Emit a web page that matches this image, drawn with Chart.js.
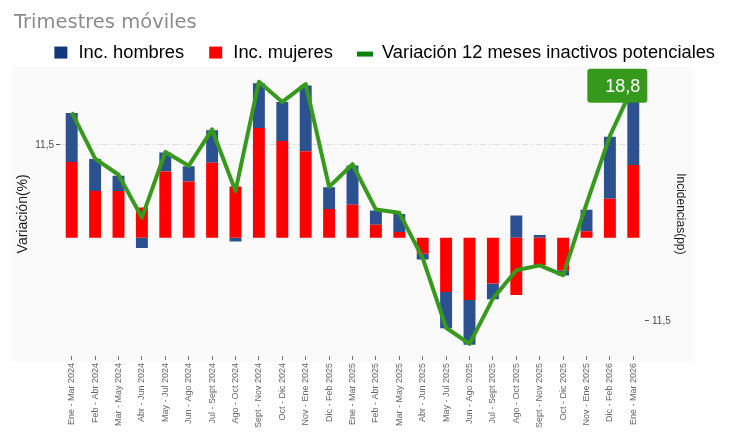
<!DOCTYPE html>
<html>
<head>
<meta charset="utf-8">
<script src="https://cdn.jsdelivr.net/npm/chart.js@4.4.1/dist/chart.umd.min.js"></script>
<style>
html,body{margin:0;padding:0;background:#ffffff;}
#wrap{width:731px;height:432px;position:relative;}
</style>
</head>
<body>
<div id="wrap"><canvas id="c" width="731" height="432"></canvas></div>
<script>
// ---- data ----
const categories = [
  'Ene - Mar 2024','Feb - Abr 2024','Mar - May 2024','Abr - Jun 2024','May - Jul 2024',
  'Jun - Ago 2024','Jul - Sept 2024','Ago - Oct 2024','Sept - Nov 2024','Oct - Dic 2024',
  'Nov - Ene 2024','Dic - Feb 2025','Ene - Mar 2025','Feb - Abr 2025','Mar - May 2025',
  'Abr - Jun 2025','May - Jul 2025','Jun - Ago 2025','Jul - Sept 2025','Ago - Oct 2025',
  'Sept - Nov 2025','Oct - Dic 2025','Nov - Ene 2025','Dic - Feb 2026','Ene - Mar 2026'
];
const incHombres = [6.8, 4.4, 2.1, -1.4, 2.6, 2.1, 4.5, -0.5, 6.2, 5.4, 9.1, 3.0, 5.4, 2.0, 2.5,
                    -0.8, -5.0, -6.2, -2.2, 3.1, 0.4, -0.7, 3.0, 8.6, 8.9];
const incMujeres = [10.5, 6.5, 6.5, 4.2, 9.2, 7.8, 10.4, 7.1, 15.2, 13.4, 12.0, 4.0, 4.6, 1.8, 0.8,
                    -2.2, -7.5, -8.6, -6.3, -7.9, -3.8, -4.5, 0.9, 5.4, 10.1];
const variacion = [15.5, 9.8, 7.8, 2.5, 10.6, 8.9, 13.4, 5.8, 19.3, 16.8, 19.0, 6.3, 9.1, 3.5, 3.1,
                   -2.5, -11.1, -13.1, -7.5, -4.0, -3.4, -4.6, 4.2, 12.6, 18.8];
const leftTicks = [11.5];
const leftTickLabels = ['11,5'];
const rightTicks = [-11.5];
const rightTickLabels = ['11,5'];
const seriesNames = ['Inc. hombres', 'Inc. mujeres', 'Variación 12 meses inactivos potenciales'];
const titleText = 'Trimestres móviles';

const FONT = "'Liberation Sans', Arial, sans-serif";
const TITLE_FONT = "'DejaVu Sans', sans-serif";
Chart.defaults.font.family = FONT;

const fmt = v => v.toLocaleString('es-ES', {minimumFractionDigits: 1, maximumFractionDigits: 1});

function icon(kind, color) {
  const c = document.createElement('canvas');
  c.width = 31; c.height = 18;
  const g = c.getContext('2d');
  g.fillStyle = color;
  if (kind === 'box') g.fillRect(16, 3, 13, 12);
  else g.fillRect(15, 8, 16, 5);
  return c;
}
const icons = [icon('box', '#12377a'), icon('box', '#ff0000'), icon('line', '#0b800b')];

const bgPlugin = {
  id: 'bg',
  beforeDraw(chart) {
    const a = chart.chartArea, ctx = chart.ctx;
    ctx.save();
    ctx.fillStyle = '#fafafa';
    ctx.fillRect(a.left - 48, a.top - 5, (a.right + 48) - (a.left - 48), (a.bottom + 6) - (a.top - 5));
    ctx.restore();
  }
};

const lastLabelPlugin = {
  id: 'lastLabel',
  afterDatasetsDraw(chart) {
    const meta = chart.getDatasetMeta(0);
    const pt = meta.data[meta.data.length - 1];
    const val = variacion[variacion.length - 1];
    const ctx = chart.ctx;
    const x0 = pt.x - 46, y0 = pt.y - 17, w = 60, h = 34, r = 3;
    ctx.save();
    ctx.fillStyle = '#359a1c';
    ctx.beginPath();
    ctx.roundRect(x0, y0, w, h, r);
    ctx.fill();
    ctx.fillStyle = '#ffffff';
    ctx.font = '18px ' + FONT;
    ctx.textAlign = 'right';
    ctx.textBaseline = 'middle';
    ctx.fillText(fmt(val), pt.x + 7, pt.y + 1);
    ctx.restore();
  }
};

new Chart(document.getElementById('c'), {
  data: {
    labels: categories,
    datasets: [
      {
        type: 'line', label: seriesNames[2], data: variacion, yAxisID: 'yL',
        borderColor: '#389a1c', backgroundColor: '#389a1c', borderWidth: 4,
        pointRadius: 0, tension: 0, order: 0, borderJoinStyle: 'round'
      },
      {
        type: 'bar', label: seriesNames[1], data: incMujeres, yAxisID: 'yR',
        backgroundColor: '#ff0000', stack: 's', order: 1,
        barPercentage: 0.51, categoryPercentage: 1
      },
      {
        type: 'bar', label: seriesNames[0], data: incHombres, yAxisID: 'yR',
        backgroundColor: '#2b5191', stack: 's', order: 1,
        barPercentage: 0.51, categoryPercentage: 1
      }
    ]
  },
  options: {
    responsive: false,
    animation: false,
    devicePixelRatio: 1,
    layout: { padding: { left: 14, right: 7, top: 0, bottom: 0 } },
    plugins: {
      tooltip: { enabled: false },
      title: {
        display: true, text: titleText, align: 'start', color: '#8c8c8c',
        font: { size: 19.5, weight: 'normal', family: TITLE_FONT }, padding: { top: 11, bottom: 0 }
      },
      legend: {
        position: 'top', align: 'end',
        labels: {
          usePointStyle: true, pointStyleWidth: 31, boxHeight: 18, padding: 9,
          color: '#1a1a1a', font: { size: 18.3 },
          generateLabels: () => [
            { text: seriesNames[0], pointStyle: icons[0], fillStyle: '#12377a', strokeStyle: 'rgba(0,0,0,0)', lineWidth: 0, hidden: false, datasetIndex: 2 },
            { text: seriesNames[1], pointStyle: icons[1], fillStyle: '#ff0000', strokeStyle: 'rgba(0,0,0,0)', lineWidth: 0, hidden: false, datasetIndex: 1 },
            { text: seriesNames[2], pointStyle: icons[2], fillStyle: '#0b800b', strokeStyle: 'rgba(0,0,0,0)', lineWidth: 0, hidden: false, datasetIndex: 0 }
          ]
        }
      }
    },
    scales: {
      x: {
        stacked: true, offset: true,
        afterFit: s => { s.height = 76; },
        grid: { drawOnChartArea: false, offset: false, tickLength: 4, tickColor: '#777', tickWidth: 1 },
        border: { display: false },
        ticks: { autoSkip: false, minRotation: 90, maxRotation: 90, color: '#666666', font: { size: 9 }, padding: 3 }
      },
      yL: {
        type: 'linear', position: 'left', min: -14.59, max: 20.53,
        afterBuildTicks: s => { s.ticks = leftTicks.map(v => ({ value: v })); },
        afterFit: s => { s.width = 46; },
        grid: { color: '#dedede', lineWidth: 1, tickColor: '#555', tickLength: 4, tickWidth: 1 },
        border: { display: false, dash: [6, 3, 2, 3] },
        ticks: { callback: (v, i) => leftTickLabels[i], color: '#4d4d4d', font: { size: 10 }, padding: 2 },
        title: { display: true, text: 'Variación(%)', color: '#1a1a1a', font: { size: 14 }, padding: { top: 1, bottom: 0 } }
      },
      yR: {
        type: 'linear', position: 'right', stacked: true, min: -16.35, max: 23.0,
        afterBuildTicks: s => { s.ticks = rightTicks.map(v => ({ value: v })); },
        afterFit: s => { s.width = 79; },
        grid: { drawOnChartArea: false, tickColor: '#555', tickLength: 4, tickWidth: 1 },
        border: { display: false },
        ticks: { callback: (v, i) => rightTickLabels[i], color: '#4d4d4d', font: { size: 10 }, padding: 3 },
        title: { display: true, text: 'Incidencias(pp)', color: '#1a1a1a', font: { size: 12 }, padding: { top: 36, bottom: 0 } }
      }
    }
  },
  plugins: [bgPlugin, lastLabelPlugin]
});
</script>
</body>
</html>
